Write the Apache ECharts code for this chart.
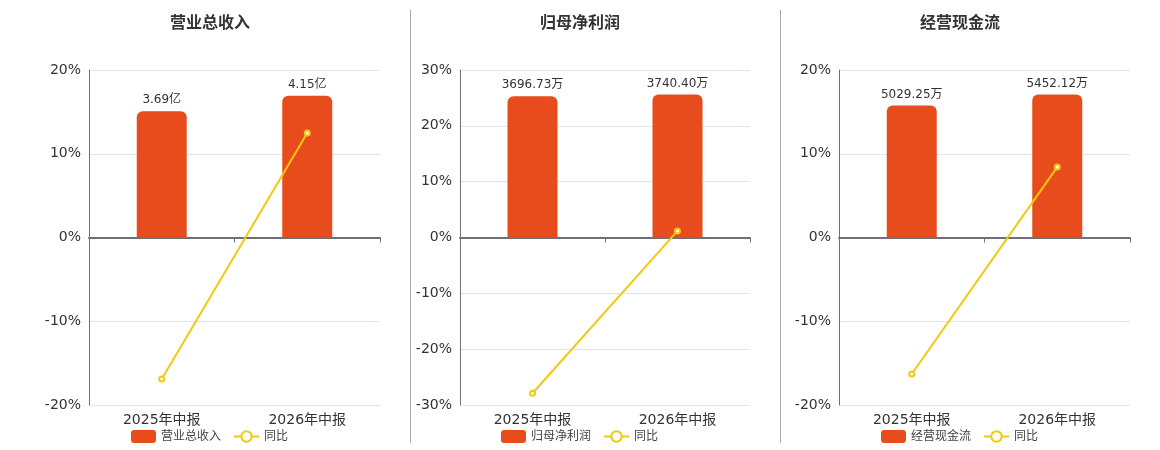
<!DOCTYPE html>
<html>
<head>
	<meta charset="utf-8">
	<title>财务指标</title>
	<script src="https://cdn.jsdelivr.net/npm/echarts@6/dist/echarts.min.js"></script>
	<style>
		* { margin: 0; padding: 0 }
		html, body { width: 100%; height: 100%; background: #fff; }
		#main { width: 1160px; height: 450px; }
	</style>
</head>
<body>
	<div id="main"></div>
	<script>
		// 数据
		var categories = ['2025年中报', '2026年中报'];
		var titles = ['营业总收入', '归母净利润', '经营现金流'];
		var units = ['亿', '万', '万'];
		var revenue = [3.69, 4.15];
		var netProfit = [3696.73, 3740.40];
		var cashFlow = [5029.25, 5452.12];
		var revenueYoy = [-16.9, 12.47];
		var netProfitYoy = [-27.9, 1.18];
		var cashFlowYoy = [-16.3, 8.41];
		var pctMin = [-20, -30, -20];
		var pctMax = [20, 30, 20];

		var barData = [revenue, netProfit, cashFlow];
		var yoyData = [revenueYoy, netProfitYoy, cashFlowYoy];

		// 布局
		var gridLeft = [89, 460, 839];
		var gridWidth = [291, 290, 291];
		var panelCenter = [210, 580, 960];
		var barAxisMax = [4.9, 4380, 6385];
		var font = 'DejaVu Sans, Noto Sans CJK SC, sans-serif';

		var option = {
			animation: false,
			textStyle: { fontFamily: font },
			title: [],
			legend: [],
			grid: [],
			xAxis: [],
			yAxis: [],
			series: [],
			graphic: [
				{ type: 'line', shape: { x1: 410.5, y1: 10, x2: 410.5, y2: 443 }, style: { stroke: '#aaaaaa', lineWidth: 1 } },
				{ type: 'line', shape: { x1: 780.5, y1: 10, x2: 780.5, y2: 443 }, style: { stroke: '#aaaaaa', lineWidth: 1 } }
			]
		};

		for (var i = 0; i < 3; i++) {
			option.title.push({
				text: titles[i],
				left: panelCenter[i] - 5,
				textAlign: 'center',
				top: 11,
				textStyle: { fontSize: 16, fontWeight: 'bold', color: '#333', fontFamily: font }
			});
			option.legend.push({
				data: [titles[i], '同比'],
				left: panelCenter[i],
				top: 425,
				itemWidth: 25,
				itemHeight: 13,
				itemGap: 12,
				textStyle: { fontSize: 12, color: '#444', fontFamily: font }
			});
			option.grid.push({
				left: gridLeft[i],
				width: gridWidth[i],
				top: 70,
				height: 335
			});
			option.xAxis.push({
				type: 'category',
				gridIndex: i,
				data: categories,
				axisLine: { lineStyle: { color: '#6E7079', width: 2 } },
				axisTick: { show: true, length: 5, lineStyle: { color: '#6E7079' } },
				axisLabel: { fontSize: 14, color: '#333', margin: 8, fontFamily: font }
			});
			option.yAxis.push({
				type: 'value',
				gridIndex: i,
				min: pctMin[i],
				max: pctMax[i],
				interval: 10,
				axisLine: { show: true, lineStyle: { color: '#6E7079' } },
				axisTick: { show: false },
				splitLine: { lineStyle: { color: '#E0E6F1' } },
				axisLabel: { formatter: '{value}%', fontSize: 14, color: '#333', margin: 8, padding: [3, 0, 0, 0], fontFamily: font }
			});
			option.yAxis.push({
				type: 'value',
				gridIndex: i,
				min: -barAxisMax[i],
				max: barAxisMax[i],
				show: false,
				splitLine: { show: false }
			});
			option.series.push({
				name: titles[i],
				type: 'bar',
				xAxisIndex: i,
				yAxisIndex: i * 2 + 1,
				data: barData[i],
				barWidth: 50,
				itemStyle: { color: '#E84C1C', borderRadius: [6, 6, 0, 0] },
				label: {
					show: true,
					position: 'top',
					distance: 5,
					fontSize: 12,
					color: '#333',
					fontFamily: font,
					formatter: (function (u) {
						return function (p) {
							return p.value.toFixed(2) + u;
						};
					})(units[i])
				}
			});
			option.series.push({
				name: '同比',
				type: 'line',
				xAxisIndex: i,
				yAxisIndex: i * 2,
				data: yoyData[i],
				symbol: 'emptyCircle',
				symbolSize: 5,
				z: 5,
				lineStyle: { color: '#F2C811', width: 2 },
				itemStyle: { color: '#F2C811', borderWidth: 1.5 }
			});
		}

		var chart = echarts.init(document.getElementById('main'));
		chart.setOption(option);

		// 图例居中到各面板中心
		var legends = [];
		for (var k = 0; k < 3; k++) {
			var view = chart.getViewOfComponentModel(chart.getModel().getComponent('legend', k));
			var rect = view.group.getBoundingRect();
			legends.push({ left: Math.round(panelCenter[k] - rect.width / 2) });
		}
		chart.setOption({ legend: legends });
	</script>
</body>
</html>
